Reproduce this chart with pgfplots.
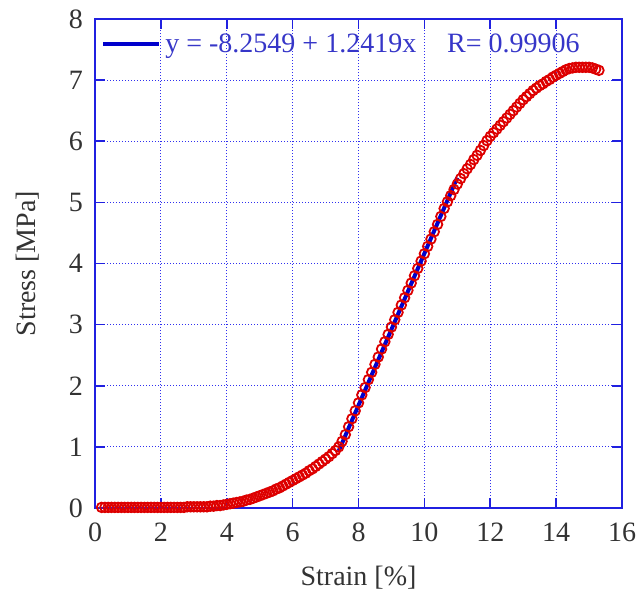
\documentclass[border=0pt]{standalone}
\usepackage{fontspec}
\setmainfont{Liberation Serif}
\usepackage{xcolor}
\usepackage{pgfplots}
\pgfplotsset{compat=1.18}

\definecolor{frameblue}{HTML}{2020E0}
\definecolor{gridblue}{HTML}{3030F0}
\definecolor{fitblue}{HTML}{0000CC}
\definecolor{legtext}{HTML}{3636C8}
\definecolor{datared}{HTML}{DD0000}
\definecolor{txt}{HTML}{333333}

\pgfplotstableread{
x y
0.2 0.01
0.3 0.01
0.4 0.01
0.5 0.01
0.6 0.01
0.7 0.01
0.8 0.01
0.9 0.01
1.0 0.01
1.1 0.01
1.2 0.01
1.3 0.01
1.4 0.01
1.5 0.01
1.6 0.01
1.7 0.01
1.8 0.01
1.9 0.01
2.0 0.01
2.1 0.01
2.2 0.01
2.3 0.01
2.4 0.01
2.5 0.01
2.6 0.01
2.7 0.01
2.8 0.02
2.9 0.02
3.0 0.02
3.1 0.02
3.2 0.02
3.3 0.02
3.4 0.02
3.5 0.03
3.6 0.03
3.7 0.04
3.8 0.04
3.9 0.05
4.0 0.06
4.1 0.07
4.2 0.08
4.3 0.09
4.4 0.10
4.5 0.11
4.6 0.13
4.7 0.14
4.8 0.16
4.9 0.18
5.0 0.20
5.1 0.22
5.2 0.24
5.3 0.26
5.4 0.28
5.5 0.31
5.6 0.33
5.7 0.36
5.8 0.39
5.9 0.42
6.0 0.45
6.1 0.48
6.2 0.51
6.3 0.54
6.4 0.57
6.5 0.61
6.6 0.64
6.7 0.68
6.8 0.72
6.9 0.76
7.0 0.80
7.1 0.84
7.2 0.89
7.3 0.94
7.4 1.00
7.5 1.09
7.6 1.20
7.7 1.33
7.8 1.46
7.9 1.59
8.0 1.72
8.1 1.85
8.2 1.97
8.3 2.10
8.4 2.22
8.5 2.35
8.6 2.47
8.7 2.60
8.8 2.72
8.9 2.84
9.0 2.96
9.1 3.08
9.2 3.20
9.3 3.32
9.4 3.44
9.5 3.56
9.6 3.68
9.7 3.80
9.8 3.92
9.9 4.04
10.0 4.16
10.1 4.28
10.2 4.40
10.3 4.52
10.4 4.64
10.5 4.77
10.6 4.90
10.7 5.01
10.8 5.11
10.9 5.21
11.0 5.30
11.1 5.39
11.2 5.47
11.3 5.55
11.4 5.62
11.5 5.70
11.6 5.77
11.7 5.85
11.8 5.93
11.9 6.01
12.0 6.08
12.1 6.14
12.2 6.20
12.3 6.26
12.4 6.32
12.5 6.38
12.6 6.44
12.7 6.50
12.8 6.56
12.9 6.62
13.0 6.68
13.1 6.73
13.2 6.78
13.3 6.83
13.4 6.87
13.5 6.91
13.6 6.94
13.7 6.98
13.8 7.01
13.9 7.05
14.0 7.08
14.1 7.11
14.2 7.14
14.3 7.17
14.4 7.19
14.5 7.20
14.6 7.21
14.7 7.21
14.8 7.21
14.9 7.21
15.0 7.21
15.1 7.20
15.2 7.18
15.3 7.16
}\strainstress

\begin{document}
\begin{tikzpicture}
\useasboundingbox (-47.5pt,-46.5pt) rectangle (272.5pt,254pt);
\begin{axis}[
  at={(0,0)}, anchor=south west,
  scale only axis,
  width=263.5pt, height=244.5pt,
  xmin=0, xmax=16, ymin=0, ymax=8,
  xtick={0,2,...,16}, ytick={0,1,...,8},
  axis line style={frameblue, line width=0.8pt},
  tick style={frameblue, line width=0.8pt},
  tick align=inside,
  major tick length=5pt,
  grid=major,
  major grid style={gridblue, line width=0.6pt, dash pattern=on 0.6pt off 0.9pt},
  tick label style={font=\fontsize{14}{16}\selectfont, text=txt},
  xticklabel style={yshift=-4pt},
  yticklabel style={xshift=-2.5pt},
  /pgf/number format/assume math mode=true,
  xlabel={Strain [\%]},
  ylabel={Stress [MPa]},
  label style={font=\fontsize{14}{16}\selectfont, text=txt},
  xlabel style={at={(axis description cs:0.5,-0.143)}, anchor=center},
  ylabel style={at={(axis description cs:-0.127,0.5)}, anchor=center},
  legend style={at={(0,1)}, anchor=north west, draw=none, fill=none,
    font=\fontsize{14}{16}\selectfont, text=legtext,
    inner xsep=1pt, inner ysep=3pt, xshift=2pt, yshift=-2pt},
  legend cell align=left,
  legend image code/.code={\draw[#1] (0pt,0pt) -- (28pt,0pt);},
]
\addplot[only marks, mark=o, mark size=2.4pt, datared, mark options={line width=0.9pt}, forget plot]
  table[x=x, y=y] {\strainstress};
\addplot[fitblue, line width=2pt] coordinates {(7.4,0.935) (11.0,5.406)};
\addlegendentry{y = -8.2549 + 1.2419x\hspace{1.1em}R= 0.99906}
\end{axis}
\end{tikzpicture}
\end{document}
